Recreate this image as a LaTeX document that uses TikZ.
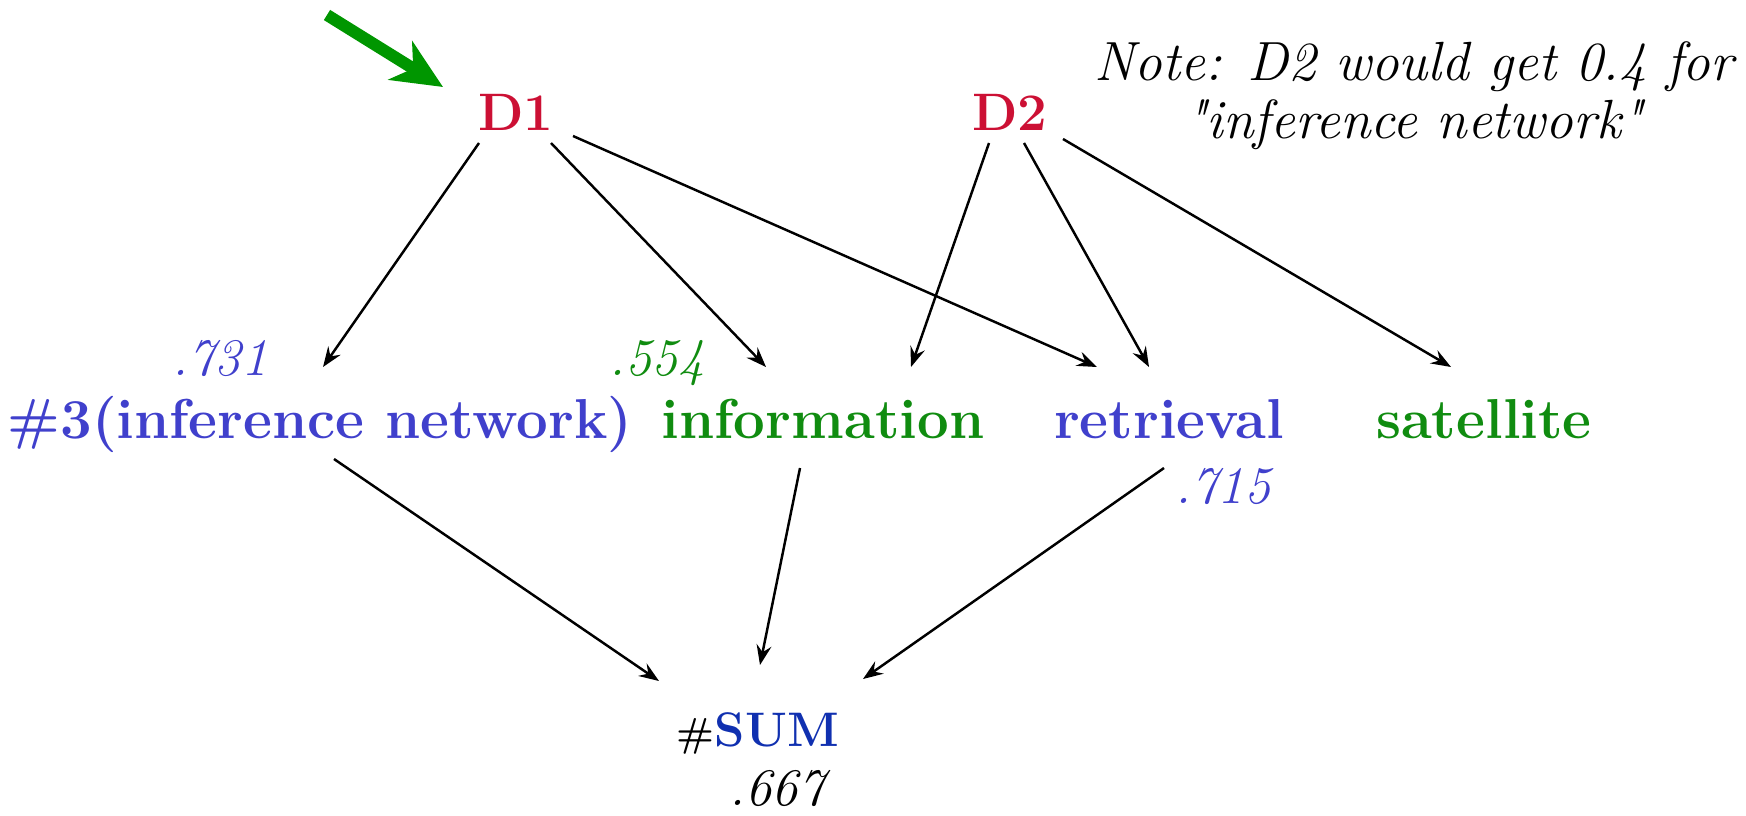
\documentclass[tikz,border=0pt]{standalone}
\usepackage{fontspec}
\usetikzlibrary{arrows.meta}
\definecolor{docred}{RGB}{204,16,52}
\definecolor{termblue}{RGB}{64,64,204}
\definecolor{termgreen}{RGB}{16,140,16}
\definecolor{sumblue}{RGB}{16,48,176}
\definecolor{pointgreen}{RGB}{0,150,0}
\tikzset{
  doc/.style={font=\fontsize{15}{18}\selectfont\bfseries, text=docred, inner sep=0pt, anchor=base},
  term/.style={font=\fontsize{16}{19}\selectfont\bfseries, inner sep=0pt, anchor=base},
  belief/.style={font=\fontsize{15}{18}\selectfont\itshape, inner sep=0pt, anchor=base},
  link/.style={-{Stealth[length=0.2cm,width=0.15cm,inset=0.07cm]}, line width=0.7pt},
}
\begin{document}
\begin{tikzpicture}[x=0.01cm, y=-0.01cm]
\useasboundingbox (0,0) rectangle (1746,815);
% documents
\node[doc] (D1) at (516,130) {D1};
\node[doc] (D2) at (1010,130) {D2};
% query terms
\node[term, text=termblue] (Inf3) at (320,438) {\#3(inference network)};
\node[term, text=termgreen] (Info) at (823,438) {information};
\node[term, text=termblue] (Retr) at (1169,438) {retrieval};
\node[term, text=termgreen] (Sat) at (1484,438) {satellite};
\node[term, font=\fontsize{13.8}{16}\selectfont\bfseries] (Sum) at (758,746)
  {{\fontsize{11.5}{13}\selectfont\#}\textcolor{sumblue}{SUM}};
% beliefs
\node[belief, text=termblue] (B731) at (220,375) {.731};
\node[belief, text=termgreen] (B554) at (657,375) {.554};
\node[belief, text=termblue] (B715) at (1223,503) {.715};
\node[belief] (B667) at (777,805) {.667};
% note
\node[font=\fontsize{15.7}{16.5}\selectfont\itshape, align=center] (Note) at (1414,96)
  {Note: D2 would get 0.4 for\\\textquotedbl inference network\textquotedbl};

% pointer to D1
\coordinate (Tail) at (327,15);
\draw[pointgreen, line width=3.4pt,
  -{Stealth[length=0.5cm,width=0.45cm,inset=0.15cm]}]
  (Tail) -- ([shift={(-73,-43)}]D1.base);

% documents -> terms
\draw[link] ([shift={(-37,13)}]D1.base) -- ([shift={(3,-71)}]Inf3.base);
\draw[link] ([shift={(35,13)}]D1.base) -- ([shift={(-57,-71)}]Info.base);
\draw[link] ([shift={(57,6)}]D1.base) -- ([shift={(-72,-71)}]Retr.base);
\draw[link] ([shift={(-21,13)}]D2.base) -- ([shift={(88,-71)}]Info.base);
\draw[link] ([shift={(14,13)}]D2.base) -- ([shift={(-20,-71)}]Retr.base);
\draw[link] ([shift={(53,9)}]D2.base) -- ([shift={(-33,-71)}]Sat.base);

% terms -> #SUM
\draw[link] ([shift={(14,21)}]Inf3.base) -- ([shift={(-99,-65)}]Sum.base);
\draw[link] ([shift={(-23,30)}]Info.base) -- ([shift={(2,-81)}]Sum.base);
\draw[link] ([shift={(-5,30)}]Retr.base) -- ([shift={(105,-67)}]Sum.base);
\end{tikzpicture}
\end{document}
